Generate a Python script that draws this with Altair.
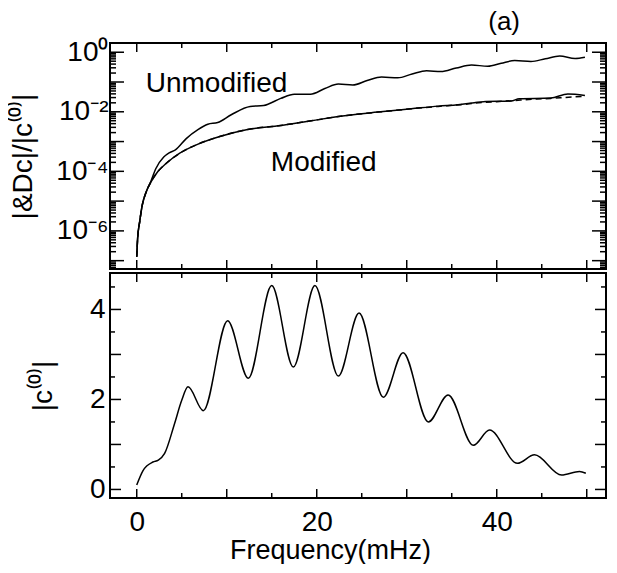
import altair as alt
import pandas as pd

# ---------------- data ----------------
# bottom panel: |c(0)| versus frequency (mHz)
freq_c0 = [0.0, 0.7, 1.8, 2.4, 3.1, 4.2, 5.0, 5.7, 7.4, 10.1, 12.4, 15.0, 17.4,
           19.8, 22.4, 24.7, 27.4, 29.6, 32.4, 34.6, 37.4, 39.2, 42.3, 44.2,
           47.2, 49.2, 49.9]
c0_vals = [0.10, 0.42, 0.61, 0.65, 0.80, 1.46, 1.98, 2.28, 1.75, 3.75, 2.47, 4.53,
           2.72, 4.53, 2.52, 3.92, 2.05, 3.04, 1.50, 2.10, 0.98, 1.32, 0.58, 0.77,
           0.32, 0.40, 0.36]

# top panel: log10 of |dc|/|c(0)|
freq_unmod = [0.0, 0.1, 0.33, 0.62, 1.07, 1.62, 2.1, 3.0, 3.6, 4.3, 5.5, 6.8, 7.9,
              9.0, 10.5, 12.6, 14.1, 16.0, 17.5, 19.3, 20.9, 22.4, 24.0, 25.6,
              27.2, 29.0, 30.6, 32.2, 33.8, 35.5, 37.2, 39.0, 40.5, 42.0, 43.8,
              45.4, 47.0, 48.7, 49.8]
log_unmod = [-6.87, -6.25, -5.69, -5.13, -4.68, -4.30, -3.92, -3.52, -3.38, -3.28,
             -2.90, -2.60, -2.42, -2.36, -2.10, -1.82, -1.79, -1.55, -1.41, -1.41,
             -1.22, -1.07, -1.10, -0.95, -0.83, -0.86, -0.73, -0.62, -0.65, -0.53,
             -0.43, -0.47, -0.37, -0.28, -0.31, -0.22, -0.13, -0.21, -0.17]

freq_mod = [0.0, 0.1, 0.33, 0.62, 1.07, 1.62, 2.37, 3.29, 4.78, 6.62, 9.22, 12.18,
            16.0, 19.4, 23.1, 26.8, 30.5, 33.5, 35.7, 37.5, 38.5, 41.6, 42.5, 46.0,
            47.9, 49.8]
log_mod = [-6.87, -6.25, -5.69, -5.13, -4.68, -4.34, -4.00, -3.73, -3.39, -3.11,
           -2.83, -2.60, -2.46, -2.30, -2.13, -2.01, -1.90, -1.81, -1.76, -1.70,
           -1.66, -1.64, -1.56, -1.54, -1.40, -1.45]

freq_dash = [0.0, 0.1, 0.33, 0.62, 1.07, 1.62, 2.37, 3.29, 4.78, 6.62, 9.22, 12.18,
             16.0, 19.4, 23.1, 26.8, 30.5, 33.5, 36.0, 38.0, 40.0, 42.0, 44.0, 46.0,
             48.0, 49.8]
log_dash = [-6.87, -6.25, -5.69, -5.13, -4.68, -4.34, -4.00, -3.73, -3.39, -3.11,
            -2.83, -2.60, -2.46, -2.30, -2.13, -2.01, -1.90, -1.82, -1.76, -1.70,
            -1.66, -1.62, -1.58, -1.55, -1.51, -1.48]

note_text = ["Unmodified", "Modified"]
note_freq = [1.0, 14.9]
note_log = [-1.34, -4.0]

x_label_values = [0, 20, 40]
y1_label_values = [1e-6, 1e-4, 1e-2, 1.0]
y2_label_values = [0, 2, 4]

# ---------------- layout / style ----------------
FONT = "Liberation Sans"
FS = 28
W, H1, H2 = 496, 226, 225
XDOM = [-2.97, -2.97 + W / 9.0]
YDOM1 = [10 ** -7.28, 10 ** 0.31]
YDOM2 = [-0.19, 4.81]

x_major = [float(v) for v in range(0, 51, 10)]
x_minor = [float(v) for v in range(5, 51, 10)]
y1_major = [float(f"1e{e}") for e in range(-7, 1)]
y1_minor = [float(f"{k}e{e}") for e in range(-8, 1) for k in range(2, 10)
            if YDOM1[0] <= float(f"{k}e{e}") <= YDOM1[1]]
y2_major = [0.0, 1.0, 2.0, 3.0, 4.0]
y2_minor = [0.5, 1.5, 2.5, 3.5, 4.5]

xs = alt.Scale(domain=XDOM, nice=False, zero=False)
y1s = alt.Scale(type="log", domain=YDOM1, nice=False)
y2s = alt.Scale(domain=YDOM2, nice=False, zero=False)

# axes (the same axis object is given to every layer of a panel so they merge)
y1_axis = alt.Axis(
    orient="left", values=y1_label_values, ticks=False, tickSize=0, domain=False,
    grid=False, labelFont=FONT, labelFontSize=FS, labelColor="black", labelPadding=2,
    labelExpr="datum.value >= 0.5 ? '10⁰' : datum.value >= 0.005 ? '10⁻²' : "
              "datum.value >= 0.00005 ? '10⁻⁴' : '10⁻⁶'",
    title="|&Dc|/|c⁽⁰⁾|", titleFont=FONT, titleFontSize=FS, titleFontWeight="normal",
    titleColor="black", titlePadding=18)

x2_axis = alt.Axis(
    orient="bottom", values=x_label_values, ticks=False, tickSize=0, domain=False,
    grid=False, labelFont=FONT, labelFontSize=FS, labelColor="black", labelPadding=10,
    title="Frequency(mHz)", titleFont=FONT, titleFontSize=27, titleFontWeight="normal",
    titleColor="black", titlePadding=1, titleX=220, titleAlign="center")

y2_axis = alt.Axis(
    orient="left", values=y2_label_values, ticks=False, tickSize=0, domain=False,
    grid=False, labelFont=FONT, labelFontSize=FS, labelColor="black", labelPadding=5,
    title="|c⁽⁰⁾|", titleFont=FONT, titleFontSize=FS, titleFontWeight="normal",
    titleColor="black", titlePadding=32)


def frame_ticks(xvals, xlen, yvals, ylen, xaxis, yscale, yaxis, H):
    """Inward ticks on all four edges, positioned through the shared scales."""
    layers = []
    xdf = pd.DataFrame({"f": xvals})
    ydf = pd.DataFrame({"v": yvals})
    rule = dict(color="black", strokeWidth=1.5)
    layers.append(alt.Chart(xdf).mark_rule(**rule).encode(
        x=alt.X("f:Q", scale=xs, axis=xaxis), y=alt.value(0), y2=alt.value(xlen)))
    layers.append(alt.Chart(xdf).mark_rule(**rule).encode(
        x=alt.X("f:Q", scale=xs, axis=xaxis), y=alt.value(H - xlen), y2=alt.value(H)))
    layers.append(alt.Chart(ydf).mark_rule(**rule).encode(
        y=alt.Y("v:Q", scale=yscale, axis=yaxis), x=alt.value(0), x2=alt.value(ylen)))
    layers.append(alt.Chart(ydf).mark_rule(**rule).encode(
        y=alt.Y("v:Q", scale=yscale, axis=yaxis), x=alt.value(W - ylen), x2=alt.value(W)))
    return layers


top_df = pd.concat([
    pd.DataFrame({"f": freq_unmod, "v": [10 ** l for l in log_unmod], "s": "Unmodified"}),
    pd.DataFrame({"f": freq_mod, "v": [10 ** l for l in log_mod], "s": "Modified"}),
    pd.DataFrame({"f": freq_dash, "v": [10 ** l for l in log_dash], "s": "Model"}),
])
notes_df = pd.DataFrame({"f": note_freq, "v": [10 ** l for l in note_log], "t": note_text})
bot_df = pd.DataFrame({"f": freq_c0, "v": c0_vals})

base_top = alt.Chart(top_df)


def top_line(series, dash):
    kw = dict(color="black", strokeWidth=1.5, interpolate="monotone")
    if dash:
        kw["strokeDash"] = [6, 4]
    return base_top.transform_filter(f"datum.s == '{series}'").mark_line(**kw).encode(
        x=alt.X("f:Q", scale=xs, axis=None),
        y=alt.Y("v:Q", scale=y1s, axis=y1_axis))


top_notes = alt.Chart(notes_df).mark_text(
    font=FONT, fontSize=FS, color="black", align="left", baseline="alphabetic").encode(
    x=alt.X("f:Q", scale=xs, axis=None),
    y=alt.Y("v:Q", scale=y1s, axis=y1_axis),
    text="t:N")

top = alt.layer(
    top_line("Unmodified", False),
    top_line("Model", True),
    top_line("Modified", False),
    top_notes,
    *frame_ticks(x_major, 9, y1_major, 14, None, y1s, y1_axis, H1),
    *frame_ticks(x_minor, 5, y1_minor, 6, None, y1s, y1_axis, H1),
).properties(
    width=W, height=H1,
    title=alt.TitleParams("(a)", anchor="end", frame="group", dx=-86, dy=30, offset=12,
                          baseline="alphabetic", font=FONT, fontSize=26,
                          fontWeight="normal", color="black"))

bottom = alt.layer(
    alt.Chart(bot_df).mark_line(color="black", strokeWidth=1.5, interpolate="monotone").encode(
        x=alt.X("f:Q", scale=xs, axis=x2_axis),
        y=alt.Y("v:Q", scale=y2s, axis=y2_axis)),
    *frame_ticks(x_major, 9, y2_major, 11, x2_axis, y2s, y2_axis, H2),
    *frame_ticks(x_minor, 5, y2_minor, 5, x2_axis, y2s, y2_axis, H2),
).properties(width=W, height=H2)

chart = alt.vconcat(top, bottom, spacing=0).properties(
    padding={"left": 0, "top": 0, "right": 0, "bottom": 0},
    background="white").configure_view(stroke="black", strokeWidth=2)

chart.save("out.html", embed_options={"renderer": "svg", "actions": False})
